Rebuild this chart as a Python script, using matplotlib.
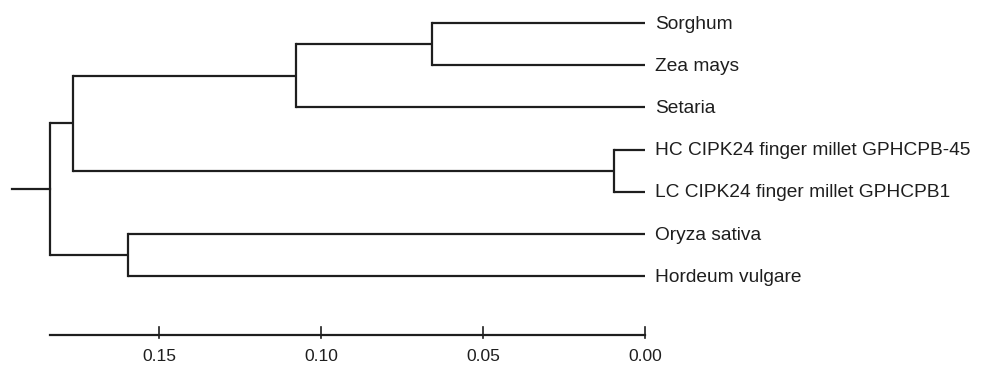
import matplotlib.pyplot as plt

# leaf labels, top to bottom
leaves = ["Sorghum", "Zea mays", "Setaria",
          "HC CIPK24 finger millet GPHCPB-45",
          "LC CIPK24 finger millet GPHCPB1",
          "Oryza sativa", "Hordeum vulgare"]

# internal nodes: (left child, right child, height); children are leaf indexes or node names
nodes = {
    "sz": (0, 1, 0.0657),
    "szs": ("sz", 2, 0.1077),
    "fm": (3, 4, 0.0096),
    "up": ("szs", "fm", 0.1765),
    "oh": (5, 6, 0.1596),
    "root": ("up", "oh", 0.1836),
}
root_stub = 0.0118

scale_ticks = [0.15, 0.10, 0.05, 0.00]

LW = 1.6
COL = "#1e1e1e"
FONT = ["Liberation Sans Narrow", "Liberation Sans", "DejaVu Sans"]

fig = plt.figure(figsize=(9.82, 3.67), dpi=100)
ax = fig.add_axes([0, 0, 1, 1])


def draw(n):
    # returns (y, height) of node n
    if isinstance(n, int):
        return n, 0.0
    a, b, h = nodes[n]
    ya, ha = draw(a)
    yb, hb = draw(b)
    ax.plot([h, ha], [ya, ya], color=COL, lw=LW, solid_capstyle="butt")
    ax.plot([h, hb], [yb, yb], color=COL, lw=LW, solid_capstyle="butt")
    ax.plot([h, h], [ya, yb], color=COL, lw=LW, solid_capstyle="projecting")
    return (ya + yb) / 2, h


ry, rh = draw("root")
ax.plot([rh + root_stub, rh], [ry, ry], color=COL, lw=LW)

for i, name in enumerate(leaves):
    ax.text(-0.0032, i + 0.03, name, ha="left", va="center", fontsize=13.8,
            family=FONT, color=COL)

# scale bar
sy = 7.40
ax.plot([rh, 0], [sy, sy], color=COL, lw=LW)
for t in scale_ticks:
    ax.plot([t, t], [sy - 0.2, sy + 0.06], color=COL, lw=1.2)
    ax.text(t, sy + 0.5, f"{t:.2f}", ha="center", va="center", fontsize=12.5,
            family=FONT, color=COL)

ax.set_xlim(0.1991, -0.104)
ax.set_ylim(8.157, -0.545)
ax.axis("off")

fig.savefig("out.png", dpi=100)
